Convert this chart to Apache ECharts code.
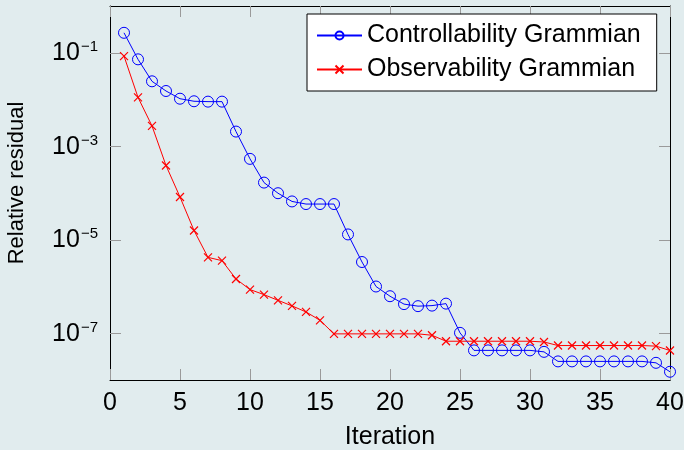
<!DOCTYPE html>
<html>
<head>
<meta charset="utf-8">
<script src="https://cdn.jsdelivr.net/npm/echarts@6/dist/echarts.min.js"></script>
<style>
html,body{margin:0;padding:0;background:#e1ecee;}
#c{width:684px;height:450px;}
</style>
</head>
<body>
<div id="c"></div>
<script>
var iterations = [1,2,3,4,5,6,7,8,9,10,11,12,13,14,15,16,17,18,19,20,21,22,23,24,25,26,27,28,29,30,31,32,33,34,35,36,37,38,39,40];
var controllability = [0.267,0.0723,0.0245,0.0152,0.0104,0.00917,0.0090,0.0090,0.00206,5.37e-4,
  1.67e-4,9.9e-5,6.6e-5,5.8e-5,5.8e-5,5.8e-5,1.30e-5,3.34e-6,1.0e-6,6.2e-7,
  4.2e-7,3.8e-7,3.9e-7,4.3e-7,1.02e-7,4.3e-8,4.3e-8,4.3e-8,4.3e-8,4.3e-8,
  4.0e-8,2.5e-8,2.5e-8,2.5e-8,2.5e-8,2.5e-8,2.5e-8,2.5e-8,2.33e-8,1.5e-8];
var observability = [0.085,0.0111,0.00272,3.87e-4,8.2e-5,1.58e-5,4.2e-6,3.57e-6,1.45e-6,8.6e-7,
  6.7e-7,5.06e-7,3.85e-7,2.86e-7,1.89e-7,9.7e-8,9.7e-8,9.7e-8,9.7e-8,9.7e-8,
  9.7e-8,9.7e-8,9.06e-8,6.75e-8,6.75e-8,6.75e-8,6.75e-8,6.75e-8,6.75e-8,6.75e-8,
  6.5e-8,5.46e-8,5.46e-8,5.46e-8,5.46e-8,5.46e-8,5.46e-8,5.46e-8,5.3e-8,4.27e-8];
var xTicks = [0,5,10,15,20,25,30,35,40];
var yTicks = [1e-7,1e-5,1e-3,1e-1];
var seriesNames = ['Controllability Grammian','Observability Grammian'];
var xLabel = 'Iteration';
var yLabel = 'Relative residual';

var FONT = '"Liberation Sans", Arial, sans-serif';
var crossPath = 'path://M0,0L10,10M10,0L0,10';

function pairs(xs, ys){ return xs.map(function(x,i){ return [x, ys[i]]; }); }
function expLabel(v){
  var e = Math.round(Math.log(v)/Math.LN10);
  var s = (e < 0 ? '\u2212' : '') + Math.abs(e);
  return '{b|10}{s|' + s + '}';
}

var tickStyle = {show:true, inside:true, length:11, lineStyle:{color:'#9a9a9a', width:1}};
var lineAxis = {show:true, onZero:false, lineStyle:{color:'#000', width:1}};

var chart = echarts.init(document.getElementById('c'), null, {renderer:'canvas'});
chart.setOption({
  animation:false,
  backgroundColor:'#e1ecee',
  grid:{left:110, right:14, top:6, bottom:70, containLabel:false, outerBoundsMode:'none'},
  legend:{
    show:true, orient:'vertical', left:307, top:14,
    padding:[9,16,9,9], itemGap:9, itemWidth:45, itemHeight:10,
    backgroundColor:'#ffffff', borderColor:'#000', borderWidth:1,
    textStyle:{fontFamily:FONT, fontSize:25, color:'#000', padding:[0,0,0,0]},
    selectedMode:false,
    data:seriesNames
  },
  xAxis:[{
    type:'value', min:0, max:40, interval:5, position:'bottom',
    axisLine:lineAxis, axisTick:tickStyle, splitLine:{show:false},
    axisLabel:{show:true, margin:11, fontFamily:FONT, fontSize:25, color:'#000', customValues:xTicks},
    name:xLabel, nameLocation:'middle', nameGap:45,
    nameTextStyle:{fontFamily:FONT, fontSize:25, color:'#000'}
  },{
    type:'value', min:0, max:40, interval:5, position:'top',
    axisLine:lineAxis, axisTick:tickStyle, splitLine:{show:false}, axisLabel:{show:false}
  }],
  yAxis:[{
    type:'log', logBase:10, min:1e-8, max:1, position:'left',
    axisLine:lineAxis, splitLine:{show:false}, minorTick:{show:false},
    axisTick:{show:true, inside:true, length:11, lineStyle:{color:'#9a9a9a', width:1}, customValues:yTicks},
    axisLabel:{show:true, margin:12, customValues:yTicks, formatter:expLabel,
      rich:{
        b:{fontFamily:FONT, fontSize:25, color:'#000', verticalAlign:'bottom'},
        s:{fontFamily:FONT, fontSize:15, color:'#000', verticalAlign:'bottom', padding:[0,0,11,1]}
      }}
  },{
    type:'log', logBase:10, min:1e-8, max:1, position:'right',
    axisLine:lineAxis, splitLine:{show:false}, minorTick:{show:false},
    axisTick:{show:true, inside:true, length:11, lineStyle:{color:'#9a9a9a', width:1}, customValues:yTicks},
    axisLabel:{show:false}
  }],
  graphic:[{
    type:'text', x:17, y:183, rotation:Math.PI/2,
    style:{text:yLabel, fontFamily:FONT, fontSize:22, fill:'#000', align:'center', verticalAlign:'middle'}
  }],
  series:[{
    name:seriesNames[0], type:'line', data:pairs(iterations, controllability),
    symbol:'circle', symbolSize:11, showSymbol:true,
    lineStyle:{color:'#0000ff', width:1},
    itemStyle:{color:'rgba(0,0,0,0)', borderColor:'#0000ff', borderWidth:1},
    emphasis:{disabled:true}
  },{
    name:seriesNames[1], type:'line', data:pairs(iterations, observability),
    symbol:crossPath, symbolSize:8, showSymbol:true,
    lineStyle:{color:'#ff0000', width:1},
    itemStyle:{color:'rgba(0,0,0,0)', borderColor:'#ff0000', borderWidth:1.2},
    emphasis:{disabled:true}
  }]
});
</script>
</body>
</html>
